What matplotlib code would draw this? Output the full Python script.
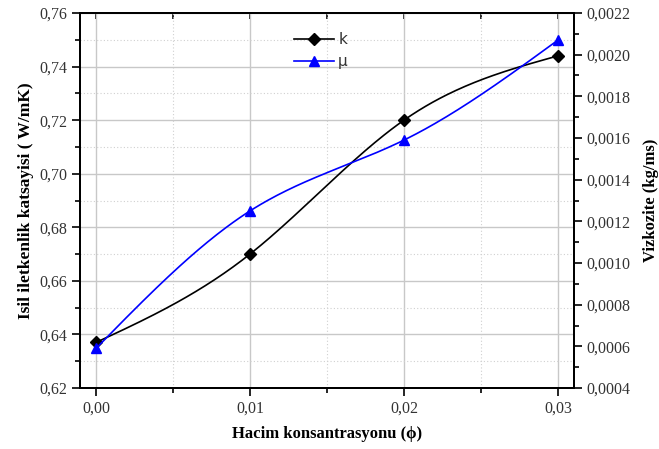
import numpy as np
import matplotlib
matplotlib.use("Agg")
import matplotlib.pyplot as plt
from matplotlib.ticker import MultipleLocator, FuncFormatter, NullFormatter
from matplotlib.lines import Line2D

phi = [0.00, 0.01, 0.02, 0.03]
k_vals = [0.637, 0.670, 0.720, 0.744]
mu_vals = [0.00059, 0.00125, 0.00159, 0.00207]

x_label = "Hacim konsantrasyonu (ϕ)"
yl_label = "Isil iletkenlik katsayisi ( W/mK)"
yr_label = "Vizkozite (kg/ms)"

plt.rcParams['font.family'] = ['Liberation Serif', 'DejaVu Serif']


def natural_spline(x, y, n=200):
    x = np.asarray(x, float); y = np.asarray(y, float)
    m = len(x)
    h = np.diff(x)
    A = np.zeros((m, m)); b = np.zeros(m)
    A[0, 0] = 1; A[-1, -1] = 1
    for i in range(1, m - 1):
        A[i, i - 1] = h[i - 1]
        A[i, i] = 2 * (h[i - 1] + h[i])
        A[i, i + 1] = h[i]
        b[i] = 3 * ((y[i + 1] - y[i]) / h[i] - (y[i] - y[i - 1]) / h[i - 1])
    c = np.linalg.solve(A, b)
    xs = np.linspace(x[0], x[-1], n)
    ys = np.empty_like(xs)
    for j, xv in enumerate(xs):
        i = min(np.searchsorted(x, xv, side='right') - 1, m - 2)
        dx = xv - x[i]
        bb = (y[i + 1] - y[i]) / h[i] - h[i] * (2 * c[i] + c[i + 1]) / 3
        d = (c[i + 1] - c[i]) / (3 * h[i])
        ys[j] = y[i] + bb * dx + c[i] * dx ** 2 + d * dx ** 3
    return xs, ys


fig = plt.figure(figsize=(6.59, 4.49), dpi=100)
ax = fig.add_axes([80 / 659, 1 - 388 / 449, 494 / 659, 375 / 449])
ax2 = ax.twinx()

fs = 11.5
lfs = 12
comma = lambda fmt: FuncFormatter(lambda v, p: (fmt % v).replace('.', ','))

ax.set_xlim(-0.00104, 0.03104)
ax.set_ylim(0.62, 0.76)
ax2.set_ylim(0.0004, 0.0022)

ax.xaxis.set_major_locator(MultipleLocator(0.01))
ax.xaxis.set_minor_locator(MultipleLocator(0.005))
ax.yaxis.set_major_locator(MultipleLocator(0.02))
ax.yaxis.set_minor_locator(MultipleLocator(0.01))
ax2.yaxis.set_major_locator(MultipleLocator(0.0002))
ax2.yaxis.set_minor_locator(MultipleLocator(0.0001))
ax.xaxis.set_major_formatter(comma('%.2f'))
ax.yaxis.set_major_formatter(comma('%.2f'))
ax2.yaxis.set_major_formatter(comma('%.4f'))

ax.grid(True, which='major', color='#c8c8c8', lw=1.0, ls='-')
ax.grid(True, which='minor', color='#d0d0d0', lw=0.8, ls=(0, (1, 2)))
ax.set_axisbelow(True)

ax.tick_params(axis='both', which='major', direction='out', length=6, width=1.2,
               labelsize=fs, colors='black', labelcolor='#333333', pad=3)
ax.tick_params(axis='both', which='minor', direction='out', length=3.5, width=1.2)
ax2.tick_params(axis='y', which='major', direction='out', length=6, width=1.2,
                labelsize=fs, labelcolor='#333333', pad=3)
ax2.tick_params(axis='y', which='minor', direction='out', length=3.5, width=1.2)

# top axis with inward ticks, no labels
top = ax.secondary_xaxis('top')
top.xaxis.set_major_locator(MultipleLocator(0.01))
top.xaxis.set_minor_locator(MultipleLocator(0.005))
top.xaxis.set_major_formatter(NullFormatter())
top.tick_params(which='both', direction='in', length=4, width=1.2)
top.spines['top'].set_linewidth(1.4)

for a in (ax, ax2):
    for s in a.spines.values():
        s.set_linewidth(1.4)

# curves
xs, ys = natural_spline(phi, k_vals)
ax.plot(xs, ys, color='black', lw=1.2, zorder=3)
ax.plot(phi, k_vals, ls='none', marker='D', ms=6, color='black', zorder=4, clip_on=False)

xs2, ys2 = natural_spline(phi, mu_vals)
ax2.plot(xs2, ys2, color='#0000ff', lw=1.2, zorder=3)
ax2.plot(phi, mu_vals, ls='none', marker='^', ms=7.5, color='#0000ff', zorder=4, clip_on=False)

ax.set_xlabel(x_label, fontsize=lfs, fontweight='bold', labelpad=7)
ax.set_ylabel(yl_label, fontsize=lfs + 0.5, fontweight='bold', labelpad=4)
ax2.set_ylabel(yr_label, fontsize=lfs, fontweight='bold', labelpad=9)

handles = [Line2D([], [], color='black', marker='D', ms=6, lw=1.2),
           Line2D([], [], color='#0000ff', marker='^', ms=7.5, lw=1.2)]
leg = ax.legend(handles, ['k', 'μ'], loc='upper left', bbox_to_anchor=(0.405, 0.985),
                frameon=False, prop={'family': 'DejaVu Sans', 'size': 11},
                handlelength=2.6, handletextpad=0.3, labelspacing=0.45)
for t in leg.get_texts():
    t.set_color('#333333')

fig.savefig('out.png', dpi=100)
